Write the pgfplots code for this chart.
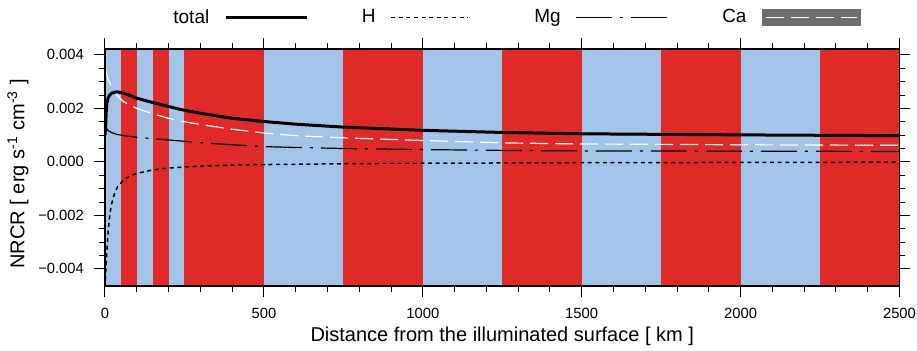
\documentclass[border=0pt]{standalone}
\usepackage{fontspec}
\setmainfont{Liberation Sans}
\usepackage{pgfplots}
\pgfplotsset{compat=1.18}
\definecolor{bandred}{RGB}{224,42,39}
\definecolor{bandblue}{RGB}{162,196,232}
\definecolor{legray}{RGB}{110,110,110}

\begin{document}
\begin{tikzpicture}
\useasboundingbox (-52.5pt,-32pt) rectangle (406pt,143pt);
\begin{axis}[
  scale only axis, width=397.25pt, height=118.5pt,
  xmin=0, xmax=2500, ymin=-0.00464, ymax=0.00422,
  axis background/.style={fill=bandblue},
  tick align=outside,
  xtick={0,500,...,2500}, minor x tick num=4,
  ytick={-0.004,-0.002,0,0.002,0.004},
  yticklabels={−0.004,−0.002,0.000,0.002,0.004},
  minor y tick num=3,
  scaled y ticks=false,
  major tick length=5.5pt, minor tick length=3pt,
  tick style={black, line width=0.5pt},
  ticklabel style={font=\fontsize{7.4}{8}\selectfont},
  xticklabel style={yshift=-2.2pt},
  yticklabel style={xshift=-1.5pt},
  /pgf/number format/assume math mode=true,
  /pgf/number format/1000 sep={},
  xlabel={Distance from the illuminated surface [ km ]},
  ylabel={NRCR [ erg s\textsuperscript{-1} cm\textsuperscript{-3} ]},
  label style={font=\fontsize{10}{12}\selectfont},
  xlabel style={at={(axis description cs:0.5,-0.213)}, anchor=center},
  ylabel style={at={(axis description cs:-0.1095,0.473)}, anchor=center},
  axis line style={black, line width=0.6pt},
  axis on top,
  legend columns=4, legend plot pos=right,
  legend style={draw=none, fill=none, at={(axis description cs:0.073,1.132)}, anchor=west,
    font=\fontsize{9.5}{11}\selectfont, column sep=5.5pt,
    /tikz/every even column/.append style={column sep=0pt}},
]
\addlegendimage{legend image code/.code={\draw[black, line width=1.5pt, solid] (0pt,0pt) -- (40.5pt,0pt); \path[draw=none, fill=none] (0pt,0pt) -- (66pt,0pt);}}
\addlegendentry{total}
\addlegendimage{legend image code/.code={\draw[black, line width=0.75pt, dash pattern=on 2pt off 1.8pt] (0pt,0pt) -- (38.5pt,0pt); \path[draw=none, fill=none] (0pt,0pt) -- (69.5pt,0pt);}}
\addlegendentry{H}
\addlegendimage{legend image code/.code={\draw[black, line width=0.6pt, dash pattern=on 18pt off 4pt on 1.5pt off 4pt] (0pt,0pt) -- (46.5pt,0pt); \path[draw=none, fill=none] (0pt,0pt) -- (71pt,0pt);}}
\addlegendentry{Mg}
\addlegendimage{legend image code/.code={\fill[legray, draw=none] (0pt,-4.25pt) rectangle (49.5pt,4.25pt); \draw[white, line width=0.6pt, dash pattern=on 9pt off 3.5pt] (2pt,0pt) -- (47.5pt,0pt);}}
\addlegendentry{Ca}

% red bands
\addplot[forget plot, draw=none, fill=bandred] coordinates {(50,-0.01) (100,-0.01) (100,0.01) (50,0.01)} -- cycle;
\addplot[forget plot, draw=none, fill=bandred] coordinates {(150,-0.01) (200,-0.01) (200,0.01) (150,0.01)} -- cycle;
\addplot[forget plot, draw=none, fill=bandred] coordinates {(250,-0.01) (500,-0.01) (500,0.01) (250,0.01)} -- cycle;
\addplot[forget plot, draw=none, fill=bandred] coordinates {(750,-0.01) (1000,-0.01) (1000,0.01) (750,0.01)} -- cycle;
\addplot[forget plot, draw=none, fill=bandred] coordinates {(1250,-0.01) (1500,-0.01) (1500,0.01) (1250,0.01)} -- cycle;
\addplot[forget plot, draw=none, fill=bandred] coordinates {(1750,-0.01) (2000,-0.01) (2000,0.01) (1750,0.01)} -- cycle;
\addplot[forget plot, draw=none, fill=bandred] coordinates {(2250,-0.01) (2500,-0.01) (2500,0.01) (2250,0.01)} -- cycle;

% H
\addplot[forget plot, black, line width=0.75pt, dash pattern=on 2pt off 1.8pt] coordinates {
(0,-0.0047) (2,-0.0042) (5,-0.0035) (10,-0.0026) (15,-0.002) (20,-0.0016) (30,-0.00118)
(40,-0.00092) (60,-0.00066) (80,-0.00052) (100,-0.00043) (150,-0.0003) (200,-0.00023)
(250,-0.00019) (300,-0.00016) (400,-0.00012) (500,-0.0001) (750,-0.00007) (1000,-0.00005)
(1500,-0.00003) (2000,-0.00002) (2500,-0.00001)};

% Mg
\addplot[forget plot, black, line width=0.6pt, dash pattern=on 18pt off 4pt on 1.5pt off 4pt] coordinates {
(0,0.00135) (5,0.00125) (10,0.00117) (20,0.0011) (37,0.00103) (60,0.00098) (100,0.00092)
(150,0.00087) (200,0.00082) (250,0.00077) (300,0.00072) (400,0.00064) (500,0.00057)
(600,0.00054) (750,0.0005) (1000,0.00046) (1250,0.00043) (1500,0.00041) (2000,0.0004) (2500,0.00039)};

% Ca
\addplot[forget plot, white, line width=0.6pt, dash pattern=on 9pt off 3.5pt] coordinates {
(0,0.0035) (5,0.0033) (10,0.00307) (21,0.00282) (37,0.0025) (58,0.00225) (100,0.002)
(150,0.0018) (200,0.00163) (250,0.0015) (300,0.0014) (400,0.00122) (500,0.00108)
(600,0.00098) (750,0.0009) (1000,0.0008) (1250,0.00071) (1500,0.00067) (2000,0.00064) (2500,0.00062)};

% total
\addplot[forget plot, black, line width=1.5pt, line join=round] coordinates {
(0,0.001) (2,0.0013) (4,0.0019) (6,0.0022) (10,0.0024) (15,0.0025) (21,0.00257) (37,0.00262)
(58,0.00257) (80,0.00248) (100,0.00238) (150,0.00222) (200,0.00207) (250,0.00193) (300,0.00182)
(400,0.00163) (500,0.00151) (600,0.00141) (750,0.0013) (1000,0.00118) (1250,0.0011)
(1500,0.00105) (2000,0.00101) (2500,0.00098)};
\end{axis}
\end{tikzpicture}
\end{document}
